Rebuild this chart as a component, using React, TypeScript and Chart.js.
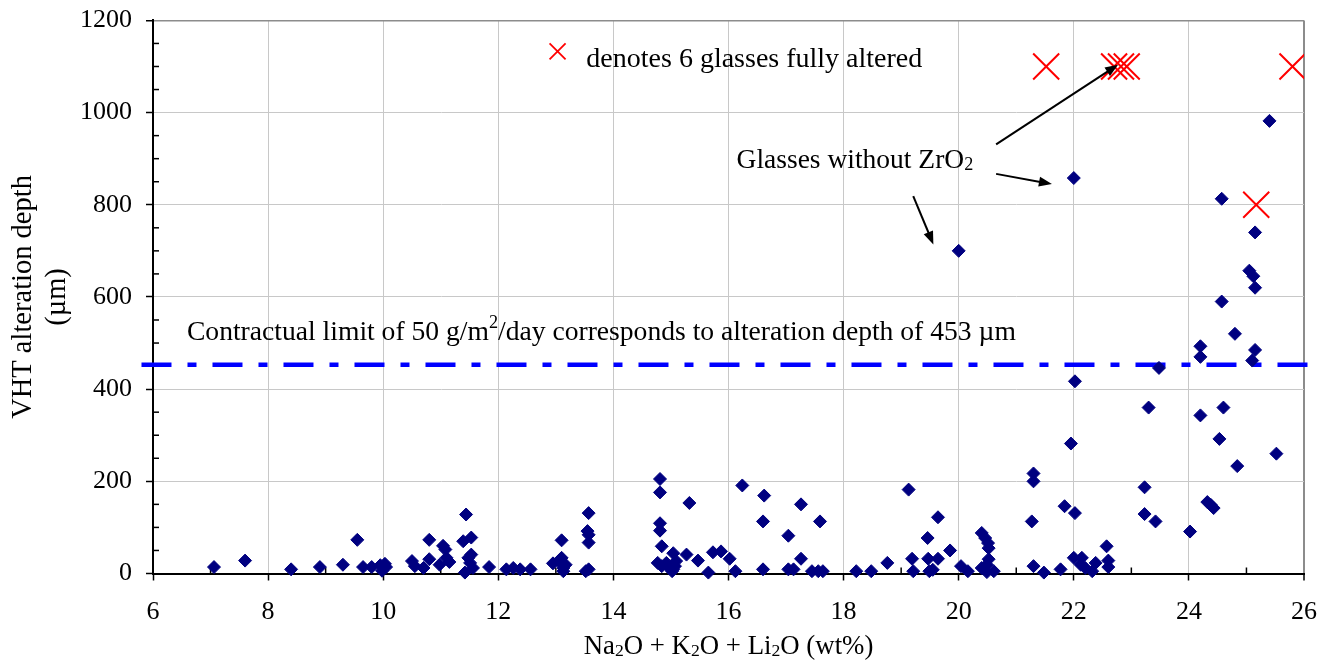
import React, { useEffect, useRef } from "react";
import { Chart, registerables } from "chart.js";
Chart.register(...registerables);

const FONT = "'Liberation Serif', 'Times New Roman', serif";

// Na2O + K2O + Li2O (wt%) of each glass
const oxideSum = [
  7.06, 7.6, 8.4, 8.9, 9.3, 9.55, 9.65, 9.8, 9.95, 9.98, 10.05, 10.03,
  10.5, 10.55, 10.7, 10.8, 10.8, 10.98, 11.04, 11.08, 11.1, 11.15,
  11.39, 11.44, 11.53, 11.53, 11.48, 11.51, 11.42, 11.56, 11.84,
  12.14, 12.26, 12.38, 12.56,
  12.95, 13.05, 13.1, 13.1, 13.17, 13.13, 13.13,
  13.57, 13.55, 13.57, 13.57, 13.57, 13.52,
  14.81, 14.81, 14.81, 14.81, 14.84, 14.77, 14.84, 14.92, 14.97, 15.04, 15.04, 15.09, 15.07, 15.02,
  15.32, 15.27, 15.47, 15.65, 15.73, 15.87, 16.02, 16.12, 16.24,
  16.62, 16.6, 16.6, 17.04, 17.04, 17.13, 17.26, 17.26, 17.45, 17.56, 17.64, 17.59,
  18.22, 18.48, 18.76,
  19.13, 19.19, 19.21, 19.46, 19.47, 19.49, 19.55, 19.64, 19.64, 19.85, 20.04, 20.16,
  20.0,
  20.4, 20.46, 20.51, 20.52, 20.52, 20.49, 20.4, 20.61, 20.49,
  21.3, 21.3, 21.27, 21.3, 21.48, 21.77, 21.84, 21.95, 22.02, 22.02, 22.0,
  22.0, 22.14, 22.12, 22.2, 22.32, 22.38, 22.57, 22.6, 22.6,
  23.23, 23.23, 23.3, 23.42, 23.48,
  24.02, 24.2, 24.2, 24.2, 24.32, 24.38, 24.43, 24.53, 24.6, 24.57, 24.57, 24.8, 24.84,
  25.05, 25.12, 25.15, 25.15, 25.15, 25.1, 25.4, 25.52,
];

// VHT alteration depth (µm) of each glass
const alterationDepth = [
  14, 28, 9, 14, 19, 73, 14, 14, 18, 6, 14, 21,
  27, 16, 12, 73, 31, 19, 60, 52, 34, 25,
  70, 128, 78, 41, 34, 23, 2, 12, 14,
  9, 12, 9, 9,
  22, 27, 34, 72, 19, 5, 12,
  131, 92, 84, 67, 9, 5,
  205, 176, 109, 93, 59, 23, 16, 23, 12, 9, 44, 27, 16, 5,
  153, 41, 28, 2, 46, 48, 32, 5, 191,
  169, 113, 9, 82, 9, 9, 150, 32, 5, 5, 5, 113,
  5, 5, 23,
  182, 32, 5, 77, 32, 5, 8, 32, 122, 50, 16, 5,
  700,
  88, 77, 66, 55, 31, 19, 12, 5, 3,
  217, 200, 113, 16, 2, 9, 146, 282, 417, 131, 858,
  34, 34, 19, 12, 5, 23, 59, 28, 14,
  187, 129, 360, 113, 446,
  91, 493, 470, 343, 155, 149, 142, 292, 360, 590, 813, 520, 233,
  657, 645, 620, 740, 485, 462, 982, 260,
];

// fully altered glasses
const alteredOxideSum = [21.52, 22.7, 22.82, 22.92, 25.8, 25.17];
const alteredDepth = [1100, 1100, 1100, 1100, 1100, 800];

// contractual limit line
const limitX = [5.8, 26.14];
const limitY = [453, 453];

const xMinorTicks = [7, 9, 11, 13, 15, 17, 19, 21, 23, 25];
const yMinorTicks = [50, 100, 150, 250, 300, 350, 450, 500, 550, 650, 700, 750, 850, 900, 950, 1050, 1100, 1150];

// annotation anchors in data units
const legendCross = { x: 13.03, y: 1133 };
const legendText = { x: 13.53, y: 1098 };
const zrText = { x: 16.14, y: 880 };
const limitText = { x: 6.59, y: 507 };
const arrows = [
  { x1: 20.65, y1: 931, x2: 22.77, y2: 1104 },
  { x1: 20.65, y1: 867, x2: 21.62, y2: 845 },
  { x1: 19.21, y1: 819, x2: 19.56, y2: 714 },
];

type Part = [string, "n" | "sub" | "sup"];

function richWidth(ctx: CanvasRenderingContext2D, parts: Part[], size: number) {
  let w = 0;
  for (const [t, k] of parts) {
    ctx.font = `${k === "n" ? size : size * 0.66}px ${FONT}`;
    w += ctx.measureText(t).width;
  }
  return w;
}

function drawRich(ctx: CanvasRenderingContext2D, x: number, y: number, parts: Part[], size: number) {
  let cx = x;
  ctx.textAlign = "left";
  ctx.textBaseline = "alphabetic";
  for (const [t, k] of parts) {
    const s = k === "n" ? size : size * 0.66;
    ctx.font = `${s}px ${FONT}`;
    const dy = k === "sub" ? size * 0.08 : k === "sup" ? -size * 0.42 : 0;
    ctx.fillText(t, cx, y + dy);
    cx += ctx.measureText(t).width;
  }
}

function drawArrow(ctx: CanvasRenderingContext2D, x1: number, y1: number, x2: number, y2: number) {
  const ang = Math.atan2(y2 - y1, x2 - x1);
  const L = 13, W = 5;
  const c = Math.cos(ang), s = Math.sin(ang);
  ctx.beginPath();
  ctx.moveTo(x1, y1);
  ctx.lineTo(x2 - L * c * 0.7, y2 - L * s * 0.7);
  ctx.stroke();
  ctx.beginPath();
  ctx.moveTo(x2, y2);
  ctx.lineTo(x2 - L * c + W * s, y2 - L * s - W * c);
  ctx.lineTo(x2 - L * c - W * s, y2 - L * s + W * c);
  ctx.closePath();
  ctx.fill();
}

const minorTicksPlugin = {
  id: "minorTicks",
  beforeDatasetsDraw(chart: any) {
    const { ctx, chartArea: a, scales } = chart;
    ctx.save();
    ctx.strokeStyle = "#000";
    ctx.lineWidth = 1.5;
    for (const v of xMinorTicks) {
      const px = scales.x.getPixelForValue(v);
      ctx.beginPath();
      ctx.moveTo(px, a.bottom);
      ctx.lineTo(px, a.bottom - 6);
      ctx.stroke();
    }
    for (const v of yMinorTicks) {
      const py = scales.y.getPixelForValue(v);
      ctx.beginPath();
      ctx.moveTo(a.left, py);
      ctx.lineTo(a.left + 6, py);
      ctx.stroke();
    }
    ctx.restore();
  },
};

const annotationPlugin = {
  id: "annotations",
  afterDatasetsDraw(chart: any) {
    const { ctx, chartArea: a, scales } = chart;
    const X = (v: number) => scales.x.getPixelForValue(v);
    const Y = (v: number) => scales.y.getPixelForValue(v);
    ctx.save();
    ctx.fillStyle = "#000";
    ctx.strokeStyle = "#000";

    // legend cross
    const cx = X(legendCross.x), cy = Y(legendCross.y);
    ctx.strokeStyle = "#ff0000";
    ctx.lineWidth = 1.8;
    ctx.beginPath();
    ctx.moveTo(cx - 8, cy - 8);
    ctx.lineTo(cx + 8, cy + 8);
    ctx.moveTo(cx + 8, cy - 8);
    ctx.lineTo(cx - 8, cy + 8);
    ctx.stroke();
    ctx.strokeStyle = "#000";

    drawRich(ctx, X(legendText.x), Y(legendText.y), [["denotes 6 glasses fully altered", "n"]], 28);
    drawRich(ctx, X(zrText.x), Y(zrText.y), [["Glasses without ZrO", "n"], ["2", "sub"]], 27.5);
    drawRich(
      ctx,
      X(limitText.x),
      Y(limitText.y),
      [["Contractual limit of 50 g/m", "n"], ["2", "sup"], ["/day corresponds to alteration depth of 453 µm", "n"]],
      27.6
    );

    ctx.lineWidth = 2;
    for (const ar of arrows) drawArrow(ctx, X(ar.x1), Y(ar.y1), X(ar.x2), Y(ar.y2));

    // x-axis title
    const title: Part[] = [
      ["Na", "n"], ["2", "sub"], ["O + K", "n"], ["2", "sub"], ["O + Li", "n"], ["2", "sub"], ["O (wt%)", "n"],
    ];
    const w = richWidth(ctx, title, 26.8);
    drawRich(ctx, (a.left + a.right) / 2 - w / 2, a.bottom + 80, title, 26.8);
    ctx.restore();
  },
};

const noScalePadding = (s: any) => {
  s.paddingTop = 0;
  s.paddingBottom = 0;
  s.paddingLeft = 0;
  s.paddingRight = 0;
};

export default function App() {
  const ref = useRef<HTMLCanvasElement>(null);
  useEffect(() => {
    document.body.style.margin = "0";
    const chart = new Chart(ref.current as HTMLCanvasElement, {
      type: "scatter",
      data: {
        datasets: [
          {
            data: oxideSum.map((x, i) => ({ x, y: alterationDepth[i] })),
            pointStyle: "rectRot",
            pointRadius: 6.5,
            backgroundColor: "#000080",
            borderColor: "#000080",
            borderWidth: 1,
            clip: false,
          } as any,
          {
            data: alteredOxideSum.map((x, i) => ({ x, y: alteredDepth[i] })),
            pointStyle: "crossRot",
            pointRadius: 18.4,
            borderColor: "#ff0000",
            backgroundColor: "#ff0000",
            borderWidth: 2,
          } as any,
          {
            data: limitX.map((x, i) => ({ x, y: limitY[i] })),
            showLine: true,
            pointRadius: 0,
            borderColor: "#0000ff",
            borderWidth: 4.5,
            borderDash: [30, 16, 9, 16],
            clip: false,
          } as any,
        ],
      },
      options: {
        animation: false,
        responsive: false,
        devicePixelRatio: 1,
        layout: { padding: { top: 19, right: 22, left: 0, bottom: 0 } },
        plugins: { legend: { display: false }, tooltip: { enabled: false } },
        scales: {
          x: {
            type: "linear",
            min: 6,
            max: 26,
            ticks: {
              stepSize: 2,
              color: "#000",
              font: { family: FONT, size: 26 },
              padding: 16,
              maxRotation: 0,
              autoSkip: false,
              callback: (v: any) => String(v),
            },
            grid: {
              color: (c: any) => (c.tick && c.tick.value === 26 ? "#8c8c8c" : "#c8c8c8"),
              lineWidth: (c: any) => (c.tick && c.tick.value === 26 ? 2 : 1),
              tickColor: "#000",
              tickLength: 7,
              tickWidth: 1.5,
            },
            border: { color: "#000", width: 2 },
            afterFit: (s: any) => {
              s.height = 89.5;
              noScalePadding(s);
            },
          },
          y: {
            type: "linear",
            min: 0,
            max: 1200,
            ticks: {
              stepSize: 200,
              color: "#000",
              font: { family: FONT, size: 26 },
              padding: 14,
              callback: (v: any) => String(v),
            },
            grid: {
              color: (c: any) => (c.tick && c.tick.value === 1200 ? "#8c8c8c" : "#c8c8c8"),
              lineWidth: (c: any) => (c.tick && c.tick.value === 1200 ? 1.5 : 1),
              tickColor: "#000",
              tickLength: 7,
              tickWidth: 1.5,
            },
            border: { color: "#000", width: 2 },
            title: {
              display: true,
              text: ["VHT alteration depth", "(µm)"],
              color: "#000",
              font: { family: FONT, size: 28.5, lineHeight: 1.18 },
              padding: { top: 7, bottom: 0 },
            },
            afterFit: (s: any) => {
              s.width = 153;
              noScalePadding(s);
            },
          },
        },
      },
      plugins: [minorTicksPlugin, annotationPlugin],
    } as any);
    return () => chart.destroy();
  }, []);
  return (
    <div style={{ position: "fixed", left: 0, top: 0, width: 1326, height: 663, background: "#fff" }}>
      <canvas ref={ref} width={1326} height={663} style={{ width: 1326, height: 663 }} />
    </div>
  );
}
